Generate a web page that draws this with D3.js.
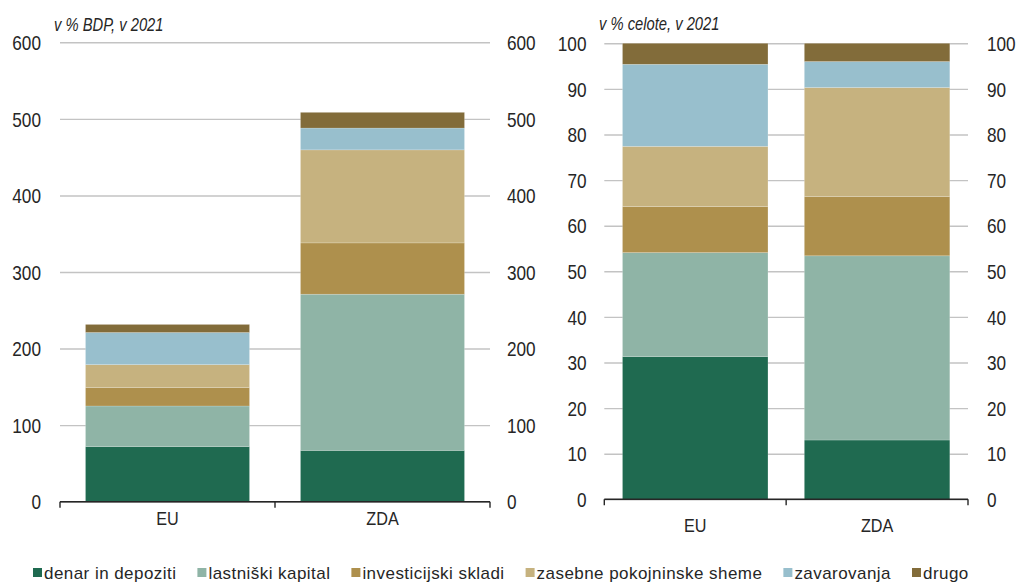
<!DOCTYPE html>
<html>
<head>
<meta charset="utf-8">
<script src="https://cdn.jsdelivr.net/npm/d3@7/dist/d3.min.js"></script>
<style>
  html, body { margin: 0; padding: 0; background: #fff; }
  svg { display: block; font-family: "Liberation Sans", Arial, sans-serif; }
</style>
</head>
<body>
<svg id="chart" width="1018" height="585"></svg>
<script>
// Household financial assets, EU vs. ZDA, 2021
const categories = ["EU", "ZDA"];
const seriesNames = [
  "denar in depoziti",
  "lastniški kapital",
  "investicijski skladi",
  "zasebne pokojninske sheme",
  "zavarovanja",
  "drugo"
];
const seriesColors = ["#1f6a50", "#8fb4a6", "#ae904d", "#c6b27f", "#98bfcd", "#826c3a"];

// v % BDP
const gdpEU  = [72, 53, 24, 30, 42, 10.5];
const gdpZDA = [67, 204, 67, 121.5, 28.5, 20.5];
// v % celote
const shareEU  = [31.3, 22.8, 10.1, 13.2, 18.0, 4.6];
const shareZDA = [13.0, 40.4, 13.0, 23.9, 5.7, 4.0];

const gdpTicks   = [0, 100, 200, 300, 400, 500, 600];
const shareTicks = [0, 10, 20, 30, 40, 50, 60, 70, 80, 90, 100];
const gdpTitle   = "v % BDP, v 2021";
const shareTitle = "v % celote, v 2021";

const svg = d3.select("#chart");
const textColor = "#262626";

function rowsFrom(valuesByCat) {
  return categories.map((cat, i) => {
    const row = { cat };
    seriesNames.forEach((s, j) => { row[s] = valuesByCat[i][j]; });
    return row;
  });
}

function drawPanel(cfg) {
  const g = svg.append("g");
  const x = d3.scaleBand()
    .domain(categories)
    .range([cfg.x0, cfg.x1])
    .paddingInner(cfg.padIn)
    .paddingOuter(cfg.padOut);
  const y = d3.scaleLinear()
    .domain([0, d3.max(cfg.ticks)])
    .range([cfg.yBottom, cfg.yTop]);

  // gridlines
  const grid = g.append("g")
    .attr("transform", `translate(${cfg.x0},0)`)
    .call(d3.axisLeft(y).tickValues(cfg.ticks).tickSize(-(cfg.x1 - cfg.x0)).tickFormat(""));
  grid.select(".domain").remove();
  grid.selectAll("line").attr("stroke", "#c3c3c3").attr("stroke-width", 1.4);

  // stacked bars
  const stacked = d3.stack().keys(seriesNames)(rowsFrom(cfg.values));
  g.append("g").selectAll("g")
    .data(stacked)
    .join("g")
      .attr("fill", (d, i) => seriesColors[i])
    .selectAll("rect")
    .data(d => d)
    .join("rect")
      .attr("x", d => x(d.data.cat))
      .attr("width", x.bandwidth())
      .attr("y", d => y(d[1]))
      .attr("height", d => y(d[0]) - y(d[1]))
      .attr("stroke", "rgba(255,255,255,0.3)")
      .attr("stroke-width", 0.6);

  // value labels, both sides
  const styleTicks = (sel, anchor) => {
    sel.select(".domain").remove();
    sel.selectAll("line").remove();
    sel.selectAll("text")
      .attr("x", 0)
      .attr("dy", "0.36em")
      .attr("text-anchor", anchor)
      .attr("fill", textColor)
      .attr("font-size", 20)
      .attr("transform", "scale(0.86,1)");
  };
  g.append("g")
    .attr("transform", `translate(${cfg.leftLabelX},0)`)
    .call(d3.axisLeft(y).tickValues(cfg.ticks).tickSize(0))
    .call(sel => styleTicks(sel, "end"));
  g.append("g")
    .attr("transform", `translate(${cfg.rightLabelX},0)`)
    .call(d3.axisRight(y).tickValues(cfg.ticks).tickSize(0))
    .call(sel => styleTicks(sel, "start"));

  // category axis line with ticks at band boundaries
  const y0 = y(0);
  const bounds = [cfg.x0];
  for (let i = 1; i < categories.length; i++) {
    bounds.push(x(categories[i]) - x.step() * x.paddingInner() / 2);
  }
  bounds.push(cfg.x1);
  g.append("line")
    .attr("x1", cfg.x0).attr("x2", cfg.x1)
    .attr("y1", y0).attr("y2", y0)
    .attr("stroke", "#262626").attr("stroke-width", 1.6);
  g.append("g").selectAll("line")
    .data(bounds)
    .join("line")
      .attr("x1", d => d).attr("x2", d => d)
      .attr("y1", y0).attr("y2", y0 + 6)
      .attr("stroke", "#262626").attr("stroke-width", 1.4);

  const cats = g.append("g")
    .attr("transform", `translate(0,${cfg.catY})`)
    .call(d3.axisBottom(x).tickSize(0));
  cats.select(".domain").remove();
  cats.selectAll("text")
    .attr("y", 0).attr("dy", 0)
    .attr("fill", textColor)
    .attr("font-size", 18)
    .attr("transform", "scale(0.9,1)");

  // unit title
  g.append("text")
    .attr("transform", `translate(${cfg.titleX},${cfg.titleY}) scale(0.82,1)`)
    .attr("font-size", 18)
    .attr("font-style", "italic")
    .attr("fill", textColor)
    .text(cfg.title);
}

drawPanel({
  values: [gdpEU, gdpZDA],
  ticks: gdpTicks,
  title: gdpTitle,
  x0: 60, x1: 490,
  yBottom: 501.7, yTop: 42.3,
  padIn: 0.237, padOut: 0.1186,
  leftLabelX: 41, rightLabelX: 507,
  catY: 525,
  titleX: 54, titleY: 31
});

drawPanel({
  values: [shareEU, shareZDA],
  ticks: shareTicks,
  title: shareTitle,
  x0: 604.3, x1: 968,
  yBottom: 499.3, yTop: 43.3,
  padIn: 0.2, padOut: 0.1,
  leftLabelX: 586.5, rightLabelX: 987,
  catY: 531.5,
  titleX: 599, titleY: 29.5
});

// legend
const legend = svg.append("g");
let lx = 33;
seriesNames.forEach((name, i) => {
  legend.append("rect")
    .attr("x", lx).attr("y", 568)
    .attr("width", 9).attr("height", 9)
    .attr("fill", seriesColors[i]);
  const t = legend.append("text")
    .attr("x", lx + 11).attr("y", 578.5)
    .attr("font-size", 17)
    .attr("letter-spacing", "0.45px")
    .attr("fill", textColor)
    .text(name);
  lx += 11 + t.node().getComputedTextLength() + 21;
});
</script>
</body>
</html>
